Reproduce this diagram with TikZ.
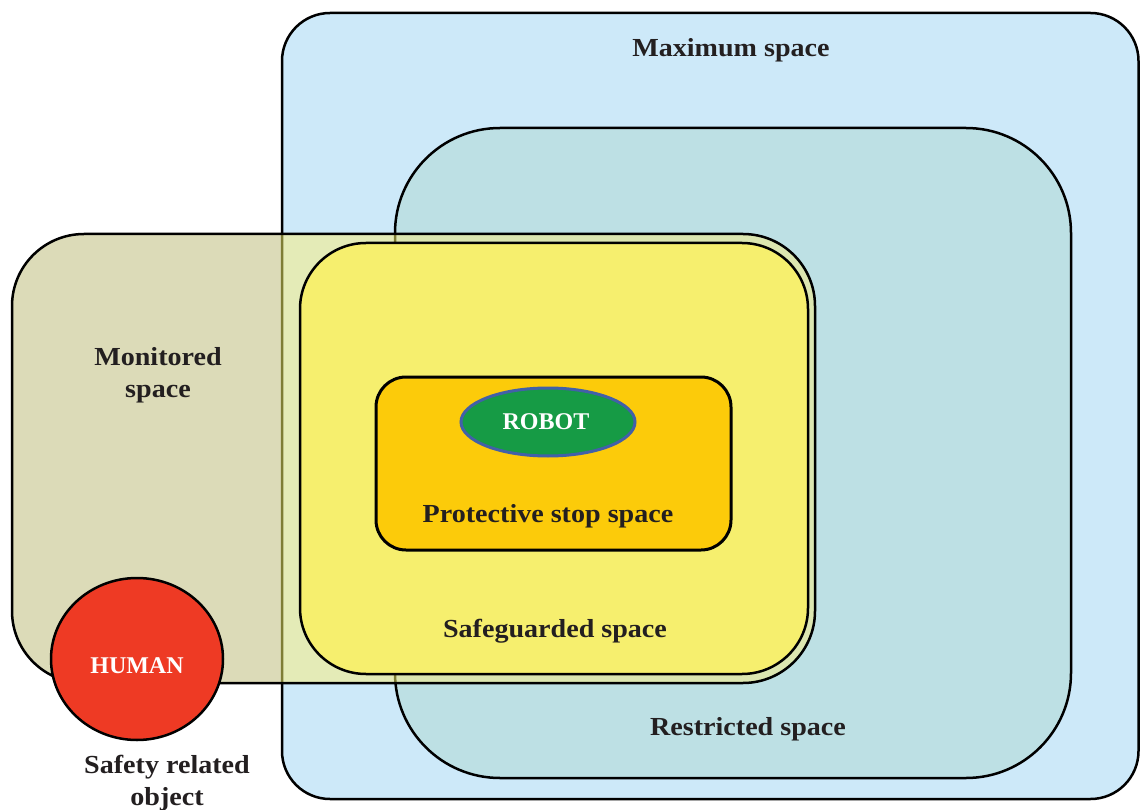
\documentclass[tikz,border=0pt]{standalone}
\usepackage{fontspec}
\usetikzlibrary{shapes.geometric}
\setmainfont{Liberation Serif}[FakeStretch=1.08]
\newfontfamily\plainserif{Liberation Serif}
\definecolor{maxc}{HTML}{CDE9F9}
\definecolor{resc}{HTML}{BDE0E4}
\definecolor{monc}{HTML}{DCDBB8}
\definecolor{monmax}{HTML}{E4EBB7}
\definecolor{monres}{HTML}{DCE6B0}
\definecolor{olive}{HTML}{7E7D35}
\definecolor{safc}{HTML}{F6EF6E}
\definecolor{protc}{HTML}{FCCB0A}
\definecolor{robc}{HTML}{169B45}
\definecolor{robb}{HTML}{4260A8}
\definecolor{humc}{HTML}{EE3A24}
\definecolor{txt}{HTML}{231F20}
\tikzset{
  border/.style={draw=black, line width=2.5pt},
  lbl/.style={text=txt, font=\fontsize{26}{30}\selectfont\bfseries, anchor=base, inner sep=0pt},
  wlbl/.style={text=white, font=\plainserif\fontsize{24}{28}\selectfont\bfseries, anchor=base, inner sep=0pt},
}
\begin{document}
\begin{tikzpicture}[x=1pt,y=-1pt]
\useasboundingbox[fill=white] (0,0) rectangle (1140,810);
% maximum space
\path[border, fill=maxc, rounded corners=48pt] (282,13) rectangle (1138.5,799);
% restricted space
\path[border, fill=resc, rounded corners=105pt] (395,128) rectangle (1071,778);
% monitored space (translucent look)
\fill[monc, rounded corners=72pt] (12,234) rectangle (815,683);
\begin{scope}
  \clip[rounded corners=72pt] (12,234) rectangle (815,683);
  \fill[monmax, rounded corners=48pt] (282,13) rectangle (1138.5,799);
  \fill[monres, rounded corners=105pt] (395,128) rectangle (1071,778);
  \draw[olive, line width=2.5pt, rounded corners=48pt] (282,13) rectangle (1138.5,799);
  \draw[olive, line width=2.5pt, rounded corners=105pt] (395,128) rectangle (1071,778);
\end{scope}
\draw[black, line width=2.5pt, rounded corners=72pt] (12,234) rectangle (815,683);
% safeguarded space
\path[border, fill=safc, rounded corners=66pt] (300,243) rectangle (808,674);
% protective stop space
\path[draw=black, line width=3pt, fill=protc, rounded corners=30pt] (376,377) rectangle (731,550);
% robot
\node[ellipse, draw=robb, line width=3pt, fill=robc, minimum width=174pt, minimum height=68pt, inner sep=0pt] (robot) at (548,422) {};
\node[wlbl] (robotlbl) at (546,429) {ROBOT};
% human
\node[ellipse, draw=black, line width=2.5pt, fill=humc, minimum width=172pt, minimum height=162pt, inner sep=0pt] (human) at (137,659) {};
\node[wlbl] (humanlbl) at (137,673) {HUMAN};
% labels
\node[lbl] (maxlbl) at (731,57) {Maximum space};
\node[lbl] (monlbl1) at (158,365) {Monitored};
\node[lbl] (monlbl2) at (158,397) {space};
\node[lbl] (protlbl) at (548,522) {Protective stop space};
\node[lbl] (saflbl) at (555,637) {Safeguarded space};
\node[lbl] (reslbl) at (748,735) {Restricted space};
\node[lbl] (objlbl1) at (167,773) {Safety related};
\node[lbl] (objlbl2) at (167,805) {object};
\end{tikzpicture}
\end{document}
